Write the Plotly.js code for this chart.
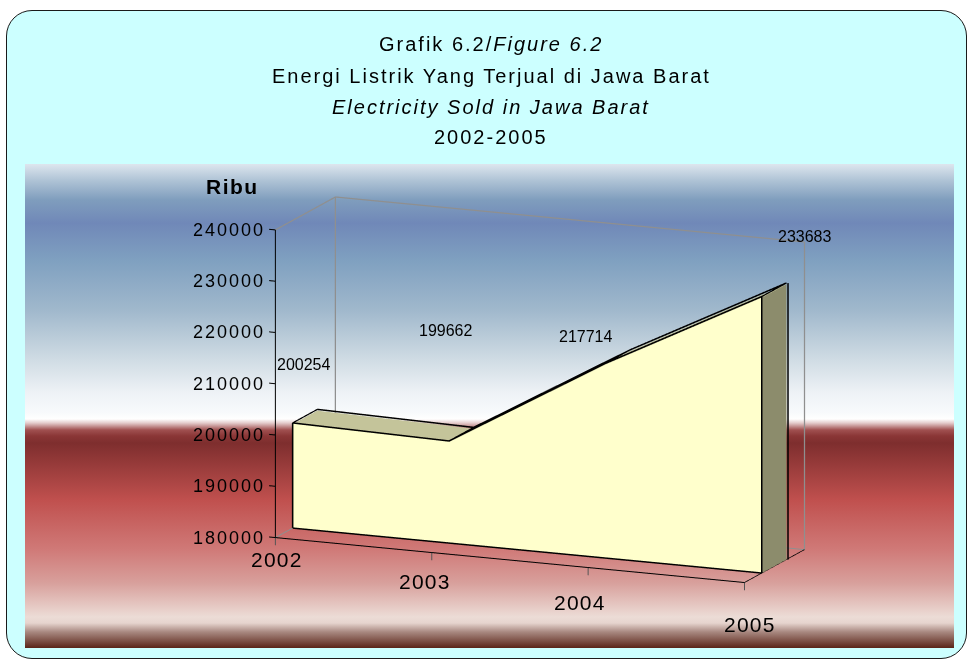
<!DOCTYPE html>
<html>
<head>
<meta charset="utf-8">
<script src="https://cdn.plot.ly/plotly-3.0.1.min.js"></script>
<style>
  html, body { margin:0; padding:0; background:#ffffff; }
  #frame { position:absolute; left:6px; top:10px; width:959px; height:647px;
           border:1.5px solid #1a1a1a; border-radius:26px; background:#ccffff; }
  #grad { position:absolute; left:25px; top:164px; width:929px; height:484px;
          background: linear-gradient(to bottom,
            #dde6ee 0px, #b0c4d6 16px, #7f9dbd 36px, #7088b8 59px, #7fa0c0 96px,
            #a0b8cc 146px, #d0dce4 196px, #eef2f6 229px, #f8fafc 249px, #ffffff 255px,
            #e4cccc 259px, #a05050 266px, #8a3636 272px, #7e2e2e 279px, #c0504e 336px,
            #d07a78 386px, #d8a09c 419px, #ecdcd6 453px, #e6d4ce 459px, #a88880 468px,
            #5a2418 484px); }
  #plot { position:absolute; left:0; top:0; width:969px; height:663px; }
</style>
</head>
<body>
<div id="frame"></div>
<div id="grad"></div>
<div id="plot"></div>
<script>
// ---- data ----
const years = [2002, 2003, 2004, 2005];
const values = [200254, 199662, 217714, 233683];
const yearLabels = ['2002', '2003', '2004', '2005'];
const dataLabels = ['200254', '199662', '217714', '233683'];
const valueTicks = [180000, 190000, 200000, 210000, 220000, 230000, 240000];
const titleLines = ['Grafik 6.2/<i>Figure 6.2</i>',
                    'Energi Listrik Yang Terjual di Jawa Barat',
                    '<i>Electricity Sold in Jawa Barat</i>',
                    '2002-2005'];
const unitLabel = '<b>Ribu</b>';

// ---- styles ----
const FONT = 'Arial, "Liberation Sans", sans-serif';
const FRONT = '#ffffcc', TOP = '#c4c49a', SIDE = '#8c8c6c';
const d0 = 0.3, d1 = 0.7;              // depth slot of the series
const xmin = years[0], xmax = years[years.length - 1];
const zmin = valueTicks[0], zmax = valueTicks[valueTicks.length - 1];
const labelShift = [[10, 59], [-4, 111], [-21, 28], [42, 61]];
const yearShift = [[2, -22], [-7, -29], [-8, -35], [5, -42]];
const sp = (t, px) => '<span style="letter-spacing:' + px + 'px">' + t + '</span>';

// ---- extruded area mesh ----
const mx = [], my = [], mz = [], fi = [], fj = [], fk = [], fc = [];
years.forEach((yr, n) => {
  mx.push(yr, yr, yr, yr);
  my.push(d0, d0, d1, d1);
  mz.push(zmin, values[n], zmin, values[n]);
});
function tri(a, b, c, col) { fi.push(a); fj.push(b); fk.push(c); fc.push(col); }
for (let n = 0; n < years.length - 1; n++) {
  const a = 4 * n, b = 4 * (n + 1);
  tri(a, a + 1, b + 1, FRONT); tri(a, b + 1, b, FRONT);          // front
  tri(a + 1, a + 3, b + 3, TOP); tri(a + 1, b + 3, b + 1, TOP);  // top
  tri(a + 2, a + 3, b + 3, TOP); tri(a + 2, b + 3, b + 2, TOP);  // back
  tri(a, a + 2, b + 2, TOP); tri(a, b + 2, b, TOP);              // bottom
}
const L = 4 * (years.length - 1);
tri(L, L + 1, L + 3, SIDE); tri(L, L + 3, L + 2, SIDE);           // right end
tri(0, 1, 3, SIDE); tri(0, 3, 2, SIDE);                           // left end

const traces = [{
  type: 'mesh3d', x: mx, y: my, z: mz, i: fi, j: fj, k: fk, facecolor: fc,
  flatshading: true, hoverinfo: 'skip', showscale: false,
  lighting: { ambient: 1, diffuse: 0, specular: 0, roughness: 1, fresnel: 0 }
}];

function line(xs, ys, zs, color, width) {
  traces.push({ type: 'scatter3d', mode: 'lines', x: xs, y: ys, z: zs,
    line: { color: color, width: width }, hoverinfo: 'skip', showlegend: false });
}
const eD = 0.012, eZ = 250, eX = 0.01;
const last = years.length - 1;
// outline of the area
line([xmin].concat(years, [xmax, xmin]), [d0 - eD].concat(years.map(() => d0 - eD), [d0 - eD, d0 - eD]),
     [zmin].concat(values.map(v => v + eZ), [zmin, zmin]), '#000', 3);
line(years, years.map(() => d1), values.map(v => v + eZ), '#000', 3);
years.forEach((yr, n) => line([yr, yr], [d0 - eD, d1], [values[n] + eZ, values[n] + eZ], '#000', 2.5));
line([xmax + eX, xmax + eX], [d1, d1], [values[last] + eZ, zmin], '#000', 3);

// walls / floor frame
const G = '#8f8f8f';
line([xmin, xmin], [0, 1], [zmax, zmax], G, 2.5);
line([xmin, xmax], [1, 1], [zmax, zmax], G, 2.5);
line([xmin, xmin], [1, 1], [zmax, zmin], G, 2.5);
line([xmax, xmax], [1, 1], [zmax, zmin], G, 2.5);
line([xmin, xmax], [1, 1], [zmin, zmin], G, 2);
line([xmin, xmin], [0, 1], [zmin, zmin], G, 2);
// axes
line([xmin, xmin], [0, 0], [zmin, zmax], '#000', 2);
line([xmin, xmax], [0, 0], [zmin, zmin], '#000', 2);
line([xmax, xmax], [0, 1], [zmin, zmin], '#000', 1.5);
valueTicks.forEach(v => line([xmin, xmin - 0.04], [0, 0], [v, v], '#000', 2));
years.forEach(yr => line([yr, yr], [0, 0], [zmin, zmin - 1500], '#555', 2));

// ---- annotations ----
const sceneAnn = [];
valueTicks.forEach(v => sceneAnn.push({ x: xmin, y: 0, z: v, text: sp(String(v), 2), showarrow: false,
  xanchor: 'right', yanchor: 'middle', xshift: -8, font: { family: FONT, size: 18, color: '#000' } }));
years.forEach((yr, n) => sceneAnn.push({ x: yr, y: 0, z: zmin, text: sp(yearLabels[n], 1.2), showarrow: false,
  xanchor: 'center', yanchor: 'middle', xshift: yearShift[n][0], yshift: yearShift[n][1],
  font: { family: FONT, size: 21, color: '#000' } }));
years.forEach((yr, n) => sceneAnn.push({ x: yr, y: d0, z: values[n], text: dataLabels[n], showarrow: false,
  xanchor: 'center', yanchor: 'middle', xshift: labelShift[n][0], yshift: labelShift[n][1],
  font: { family: FONT, size: 16, color: '#000' } }));

const paperAnn = titleLines.map((t, n) => ({
  xref: 'paper', yref: 'paper', x: 491 / 969, y: 1 - [44, 76, 107, 137][n] / 663,
  text: sp(t, 2), showarrow: false, xanchor: 'center', yanchor: 'middle',
  font: { family: FONT, size: 20, color: '#000' } }));
paperAnn.push({ xref: 'paper', yref: 'paper', x: 232 / 969, y: 1 - 186 / 663, text: sp(unitLabel, 1.5),
  showarrow: false, xanchor: 'center', yanchor: 'middle', font: { family: FONT, size: 21, color: '#000' } });

const hidden = { showgrid: false, zeroline: false, showline: false, showticklabels: false,
  showbackground: false, showspikes: false, ticks: '', title: { text: '' } };

const layout = {
  width: 969, height: 663, margin: { l: 0, r: 0, t: 0, b: 0 },
  paper_bgcolor: 'rgba(0,0,0,0)', plot_bgcolor: 'rgba(0,0,0,0)',
  showlegend: false, hovermode: false,
  annotations: paperAnn,
  scene: {
    domain: { x: [0, 1], y: [0, 1] },
    bgcolor: 'rgba(0,0,0,0)',
    xaxis: Object.assign({ range: [xmin - 0.1, xmax + 0.1] }, hidden),
    yaxis: Object.assign({ range: [-0.1, 1.1] }, hidden),
    zaxis: Object.assign({ range: [zmin - 2000, zmax + 2000] }, hidden),
    aspectmode: 'manual',
    aspectratio: { x: 1.636, y: 0.563, z: 1.017 },
    camera: {
      projection: { type: 'orthographic' },
      up: { x: 0, y: 0, z: 1 },
      center: { x: -0.170, y: -0.027, z: 0.171 },
      eye: { x: 0.393, y: -1.374, z: 0.515 }
    },
    annotations: sceneAnn
  }
};

Plotly.newPlot('plot', traces, layout, { displayModeBar: false });
</script>
</body>
</html>
